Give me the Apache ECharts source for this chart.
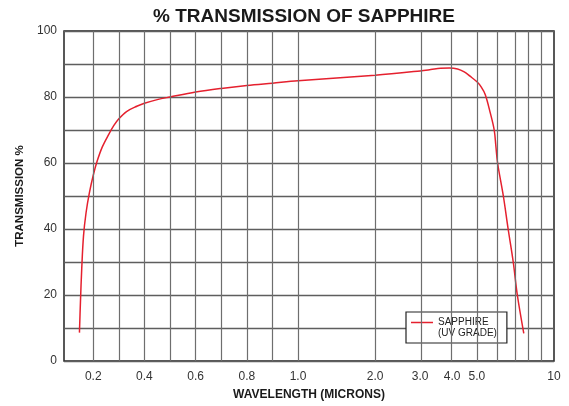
<!DOCTYPE html>
<html>
<head>
<meta charset="utf-8">
<script src="https://cdn.jsdelivr.net/npm/echarts@6/dist/echarts.min.js"></script>
<style>
html,body{margin:0;padding:0;background:#fff;}
#chart{width:569px;height:406px;}
</style>
</head>
<body>
<div id="chart"></div>
<script>
// ---- data ----
const wavelength = [0.146, 0.150, 0.155, 0.162, 0.172, 0.185, 0.2, 0.215, 0.235, 0.26, 0.28, 0.3, 0.33, 0.37, 0.4, 0.45, 0.5, 0.6, 0.7, 0.8, 0.9, 1.0, 2.0, 3.0, 3.3, 3.6, 3.9, 4.2, 4.46, 4.7, 5.0, 5.2, 5.39, 5.64, 5.84, 5.93, 6.02, 6.34, 6.62, 6.93, 7.19, 7.62];
const transmission = [8.6, 18, 28, 38, 45, 51, 56.3, 60.5, 64.8, 68.6, 71.3, 73.4, 75.6, 77.2, 78.1, 79.2, 80, 81.5, 82.6, 83.5, 84.2, 84.9, 86.6, 87.9, 88.3, 88.7, 88.8, 88.5, 87.6, 86.3, 84.6, 83.0, 80.7, 75.1, 70, 65, 60, 50, 40, 30, 20, 8.4];
const xLabelValues = [0.2, 0.4, 0.6, 0.8, 1.0, 2.0, 3.0, 4.0, 5.0, 10];
const xLabelTexts = ['0.2', '0.4', '0.6', '0.8', '1.0', '2.0', '3.0', '4.0', '5.0', '10'];
const xGridValues = [0.2, 0.3, 0.4, 0.5, 0.6, 0.7, 0.8, 0.9, 1.0, 2, 3, 4, 5, 6, 7, 8, 9];
const xDomain = [0.0857, 10];
const yDomain = [0, 100];
const seriesName = 'SAPPHIRE (UV GRADE)';

// axis transform: linear up to 1 micron, logarithmic beyond
function toU(w) { return w <= 1 ? w : 1 + Math.log10(w); }

const chart = echarts.init(document.getElementById('chart'), null, {renderer: 'canvas'});
const FONT = 'Liberation Sans, Arial, sans-serif';

chart.setOption({
  animation: false,
  title: {
    text: '% TRANSMISSION OF SAPPHIRE',
    left: 299, top: 2, textAlign: 'center',
    textStyle: {fontFamily: FONT, fontWeight: 'bold', fontSize: 19, color: '#1a1a1a'}
  },
  grid: {
    left: 64, right: 15, top: 31, bottom: 45,
    show: true, borderColor: '#222', borderWidth: 1.5, backgroundColor: '#fff'
  },
  legend: {
    left: 406, top: 312,
    data: [seriesName],
    // line sample at the top of the icon box so it sits beside the first text line
    icon: 'path://M0,0H22V1.5H0Z M0,11.5H0.01V11.51H0Z',
    formatter: () => 'SAPPHIRE\n(UV GRADE)',
    itemWidth: 22, itemHeight: 11.5,
    padding: [4, 10, 4, 5],
    backgroundColor: '#fff', borderColor: '#222', borderWidth: 1.2,
    textStyle: {fontFamily: FONT, fontSize: 10, lineHeight: 11.5, color: '#222'}
  },
  xAxis: {
    type: 'value',
    min: toU(xDomain[0]), max: toU(xDomain[1]),
    name: 'WAVELENGTH (MICRONS)',
    nameLocation: 'middle', nameGap: 28,
    nameTextStyle: {fontFamily: FONT, fontWeight: 'bold', fontSize: 12, color: '#1a1a1a'},
    axisLine: {show: false},
    axisTick: {show: false},
    splitLine: {show: false},
    axisLabel: {
      customValues: xLabelValues.map(toU),
      margin: 10,
      fontFamily: FONT, fontSize: 12, color: '#333',
      formatter: function (val) {
        for (let i = 0; i < xLabelValues.length; i++) {
          if (Math.abs(toU(xLabelValues[i]) - val) < 1e-6) return xLabelTexts[i];
        }
        return '';
      }
    }
  },
  yAxis: {
    type: 'value', min: yDomain[0], max: yDomain[1], interval: 10,
    name: 'TRANSMISSION %',
    nameLocation: 'middle', nameGap: 35, nameRotate: 90,
    nameTextStyle: {fontFamily: FONT, fontWeight: 'bold', fontSize: 11.5, color: '#1a1a1a'},
    axisLine: {show: false},
    axisTick: {show: false},
    axisLabel: {
      margin: 7, fontFamily: FONT, fontSize: 12, color: '#333',
      formatter: v => (v % 20 === 0 ? String(v) : '')
    },
    splitLine: {show: true, lineStyle: {color: '#5e5e5e', width: 1.3}}
  },
  series: [
    {
      type: 'line',
      name: 'grid',
      data: [],
      silent: true,
      z: 1,
      markLine: {
        silent: true,
        symbol: ['none', 'none'],
        label: {show: false},
        lineStyle: {color: '#6e6e6e', width: 1.2, type: 'solid'},
        emphasis: {disabled: true},
        data: xGridValues.map(v => ({xAxis: toU(v)}))
      }
    },
    {
      type: 'line',
      name: seriesName,
      z: 3,
      data: wavelength.map((w, i) => [toU(w), transmission[i]]),
      showSymbol: false,
      symbol: 'none',
      smooth: 0.35,
      lineStyle: {color: '#e5202e', width: 1.5},
      itemStyle: {color: '#e5202e'}
    }
  ]
});
</script>
</body>
</html>
